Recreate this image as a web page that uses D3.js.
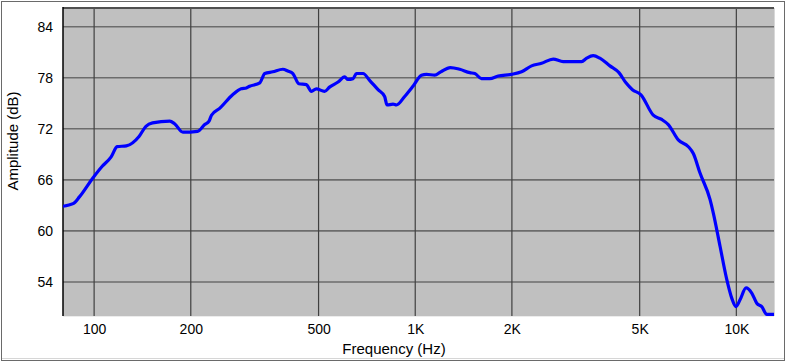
<!DOCTYPE html>
<html>
<head>
<meta charset="utf-8">
<script src="https://cdn.jsdelivr.net/npm/d3@7"></script>
<style>
  body { margin: 0; background: #fff; }
  svg { display: block; font-family: Arial, "Liberation Sans", sans-serif; }
</style>
</head>
<body>
<div id="chart"></div>
<script>
// frequency response
const freqs = [80, 86, 90, 99, 106, 113, 118, 126, 138, 145, 152, 172, 178, 189, 210, 221, 228, 232,
  246, 270, 287, 298, 305, 328, 340, 360, 387, 401, 416, 434, 458, 475, 492, 522, 541, 575, 603,
  617, 640, 656, 688, 721, 766, 803, 817, 853, 874, 927, 984, 1046, 1084, 1150, 1201, 1286, 1376,
  1479, 1533, 1608, 1707, 1812, 1994, 2143, 2303, 2474, 2689, 2889, 3297, 3418, 3583, 3759, 4039,
  4310, 4531, 4747, 5046, 5512, 5854, 6138, 6595, 7088, 7345, 7707, 8279, 8478, 8897, 9335, 9676,
  9979, 10268, 10720, 11168, 11576, 12000, 12438, 13100];
const amps = [62.9, 63.2, 64.0, 66.2, 67.6, 68.7, 69.9, 70.0, 71.1, 72.3, 72.7, 72.9, 72.6, 71.6,
  71.7, 72.5, 72.9, 73.6, 74.4, 76.0, 76.7, 76.8, 77.0, 77.4, 78.5, 78.7, 79.0, 78.8, 78.5, 77.3,
  77.2, 76.4, 76.7, 76.4, 76.9, 77.5, 78.1, 77.8, 77.9, 78.5, 78.5, 77.7, 76.6, 75.8, 74.8, 74.9,
  74.8, 75.8, 77.0, 78.3, 78.4, 78.3, 78.7, 79.2, 79.0, 78.6, 78.5, 77.9, 77.9, 78.2, 78.4, 78.7,
  79.4, 79.7, 80.2, 79.9, 79.9, 80.3, 80.6, 80.3, 79.4, 78.6, 77.4, 76.6, 76.0, 73.6, 73.1, 72.5,
  70.7, 69.9, 69.1, 66.8, 63.7, 62.1, 58.2, 54.3, 52.1, 51.1, 51.9, 53.3, 52.7, 51.5, 51.1, 50.2, 50.2];

const xTicks = [100, 200, 500, 1000, 2000, 5000, 10000];
const xTickLabels = ['100', '200', '500', '1K', '2K', '5K', '10K'];
const yTicks = [54, 60, 66, 72, 78, 84];

const width = 789, height = 363;
const plot = { left: 63, right: 774, top: 8, bottom: 316 };

const svg = d3.select('#chart').append('svg')
  .attr('width', width)
  .attr('height', height);

// outer frame
svg.append('rect')
  .attr('x', 1.5).attr('y', 1.5)
  .attr('width', 783).attr('height', 359)
  .attr('fill', '#fff')
  .attr('stroke', '#6a6a6a');
svg.append('line')
  .attr('x1', 2).attr('x2', 784).attr('y1', 358.5).attr('y2', 358.5)
  .attr('stroke', '#d6d6d6');

const x = d3.scaleLog().domain([80, 13100]).range([plot.left, plot.right]);
const y = d3.scaleLinear().domain([50, 86.2]).range([plot.bottom, plot.top]);

// plot background
svg.append('rect')
  .attr('x', plot.left).attr('y', plot.top)
  .attr('width', plot.right - plot.left).attr('height', plot.bottom - plot.top)
  .attr('fill', '#c0c0c0');

// horizontal grid
svg.append('g').selectAll('line')
  .data(yTicks)
  .join('line')
  .attr('x1', plot.left).attr('x2', plot.right)
  .attr('y1', d => y(d)).attr('y2', d => y(d))
  .attr('stroke', '#6c6c6c')
  .attr('stroke-width', 1.6);

// vertical grid
svg.append('g').selectAll('line')
  .data(xTicks)
  .join('line')
  .attr('x1', d => x(d)).attr('x2', d => x(d))
  .attr('y1', plot.top).attr('y2', plot.bottom)
  .attr('stroke', '#404040')
  .attr('stroke-width', 1.2);

// sunken border: dark top/left, light right/bottom
svg.append('line')
  .attr('x1', plot.left).attr('x2', plot.right).attr('y1', plot.top).attr('y2', plot.top)
  .attr('stroke', '#505050').attr('stroke-width', 2);
svg.append('line')
  .attr('x1', plot.left).attr('x2', plot.left).attr('y1', plot.top - 1).attr('y2', plot.bottom)
  .attr('stroke', '#000').attr('stroke-width', 1.5);
svg.append('line')
  .attr('x1', plot.right + 0.5).attr('x2', plot.right + 0.5).attr('y1', plot.top).attr('y2', plot.bottom)
  .attr('stroke', '#d8d8d8');
svg.append('line')
  .attr('x1', plot.left).attr('x2', plot.right).attr('y1', plot.bottom + 0.5).attr('y2', plot.bottom + 0.5)
  .attr('stroke', '#ececec');

// the response curve
svg.append('clipPath').attr('id', 'plotClip')
  .append('rect')
  .attr('x', plot.left).attr('y', plot.top)
  .attr('width', plot.right - plot.left).attr('height', plot.bottom - plot.top);

const points = freqs.map((f, i) => [f, amps[i]]);
const line = d3.line()
  .x(d => x(d[0]))
  .y(d => y(d[1]))
  .curve(d3.curveMonotoneX);

svg.append('path')
  .datum(points)
  .attr('clip-path', 'url(#plotClip)')
  .attr('d', line)
  .attr('fill', 'none')
  .attr('stroke', '#0000ff')
  .attr('stroke-width', 3.2)
  .attr('stroke-linejoin', 'round');

// axes (labels only)
const xAxis = svg.append('g')
  .attr('transform', `translate(0, ${plot.bottom + 2})`)
  .call(d3.axisBottom(x).tickValues(xTicks)
    .tickFormat((d, i) => xTickLabels[i]).tickSize(0).tickPadding(6));
xAxis.select('.domain').remove();
xAxis.selectAll('text').attr('font-size', 14).attr('fill', '#000')
  .attr('font-family', 'Arial, "Liberation Sans", sans-serif');

const yAxis = svg.append('g')
  .attr('transform', `translate(${plot.left}, 0)`)
  .call(d3.axisLeft(y).tickValues(yTicks).tickSize(0).tickPadding(10));
yAxis.select('.domain').remove();
yAxis.selectAll('text').attr('font-size', 14).attr('fill', '#000')
  .attr('font-family', 'Arial, "Liberation Sans", sans-serif');

// axis titles
svg.append('text')
  .attr('x', 394).attr('y', 354)
  .attr('text-anchor', 'middle')
  .attr('font-size', 15)
  .text('Frequency (Hz)');

svg.append('text')
  .attr('transform', 'translate(18, 141) rotate(-90)')
  .attr('text-anchor', 'middle')
  .attr('font-size', 15)
  .text('Amplitude (dB)');
</script>
</body>
</html>
